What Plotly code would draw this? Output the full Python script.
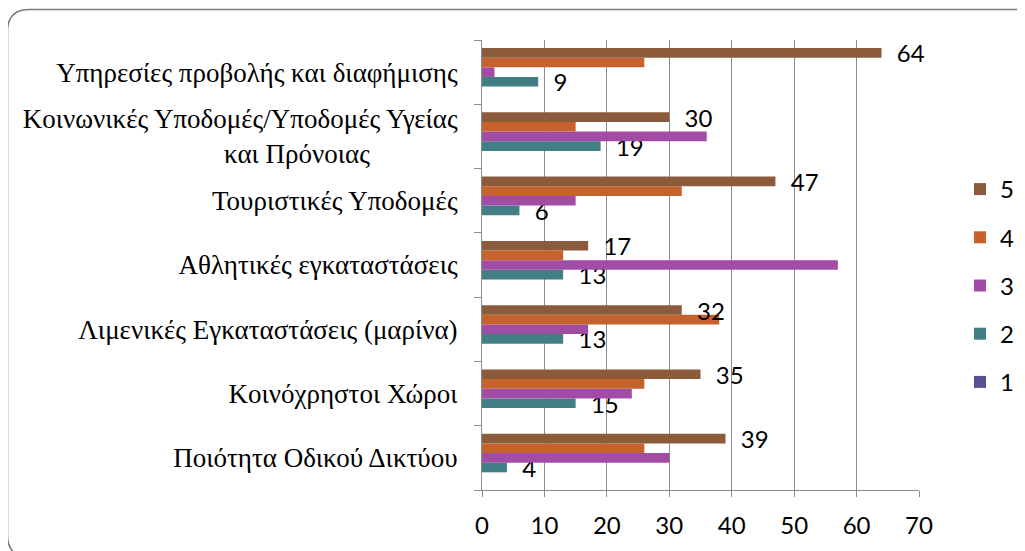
import plotly.graph_objects as go

categories = [
    "Ποιότητα Οδικού Δικτύου",
    "Κοινόχρηστοι Χώροι",
    "Λιμενικές Εγκαταστάσεις (μαρίνα)",
    "Αθλητικές εγκαταστάσεις",
    "Τουριστικές Υποδομές",
    "Κοινωνικές Υποδομές/Υποδομές Υγείας<br>και Πρόνοιας" + "\u00a0" * 13,
    "Υπηρεσίες προβολής και διαφήμισης",
]
s1 = [0, 0, 0, 0, 0, 0, 0]
s2 = [4, 15, 13, 13, 6, 19, 9]
s3 = [30, 24, 17, 57, 15, 36, 2]
s4 = [26, 26, 38, 13, 32, 15, 26]
s5 = [39, 35, 32, 17, 47, 30, 64]
series_names = ["1", "2", "3", "4", "5"]
x_ticks = [0, 10, 20, 30, 40, 50, 60, 70]

colors = ["#575193", "#427F85", "#A24DA5", "#C6632C", "#8C5B3C"]
labelled = [False, True, False, False, True]
values = [s1, s2, s3, s4, s5]

# the page body has an 8px margin, so figure coords = page coords - 8
W, H = 1017, 543
L, R, T, B = 474, 911, 32, 482

fig = go.Figure()
pad = "\u00a0\u00a0"
for i, (name, vals, col, lab) in enumerate(zip(series_names, values, colors, labelled)):
    fig.add_trace(go.Bar(
        name=name, y=categories, x=vals, orientation="h",
        marker=dict(color=col, line=dict(width=0)),
        text=[pad + str(v) for v in vals] if lab else None,
        textposition="outside" if lab else "none",
        constraintext="none", cliponaxis=False,
        textfont=dict(family="Lato", size=24, color="#000000"),
        legendgroup=name, legendrank=len(series_names) - i,
    ))

def px(x):
    return (x - L) / (R - L)

def py(y):
    return (B - y) / (B - T)

x0, y0, x1, y1, r = -0.5, 1.5, 1029, 549, 22
path = (
    f"M {px(x0)},{py(y0 + r)} "
    f"Q {px(x0)},{py(y0)} {px(x0 + r)},{py(y0)} "
    f"L {px(x1 - r)},{py(y0)} "
    f"Q {px(x1)},{py(y0)} {px(x1)},{py(y0 + r)} "
    f"L {px(x1)},{py(y1 - r)} "
    f"Q {px(x1)},{py(y1)} {px(x1 - r)},{py(y1)} "
    f"L {px(x0 + r)},{py(y1)} "
    f"Q {px(x0)},{py(y1)} {px(x0)},{py(y1 - r)} Z"
)
fig.add_shape(type="path", path=path, xref="paper", yref="paper",
              line=dict(color="#7a7a7a", width=1.5), layer="above")

fig.update_layout(
    width=W, height=H,
    margin=dict(l=L, r=W - R, t=T, b=H - B, pad=0, autoexpand=False),
    paper_bgcolor="white", plot_bgcolor="white",
    barmode="group", bargap=0.25, bargroupgap=0,
    showlegend=True,
    legend=dict(
        traceorder="grouped", x=px(952), xanchor="left",
        y=py(159), yanchor="top", tracegroupgap=14,
        font=dict(family="Lato", size=24, color="#000000"),
        bgcolor="rgba(0,0,0,0)",
    ),
    xaxis=dict(
        range=[0, 70], tickvals=x_ticks, showgrid=True,
        gridcolor="#8c8c8c", gridwidth=1,
        showline=True, linecolor="#8c8c8c", linewidth=1,
        ticks="outside", ticklen=6, tickcolor="#8c8c8c",
        ticklabelstandoff=8, automargin=False,
        tickfont=dict(family="Lato", size=24, color="#000000"),
        zeroline=False, fixedrange=True,
    ),
    yaxis=dict(
        type="category", categoryorder="array", categoryarray=categories,
        showline=True, linecolor="#8c8c8c", linewidth=1,
        ticks="outside", ticklen=7, tickcolor="#8c8c8c",
        tickson="boundaries", showgrid=False,
        ticklabelstandoff=18, automargin=False,
        tickfont=dict(family="Liberation Serif", size=27, color="#000000"),
        fixedrange=True,
    ),
)

fig.write_html("out.html")
